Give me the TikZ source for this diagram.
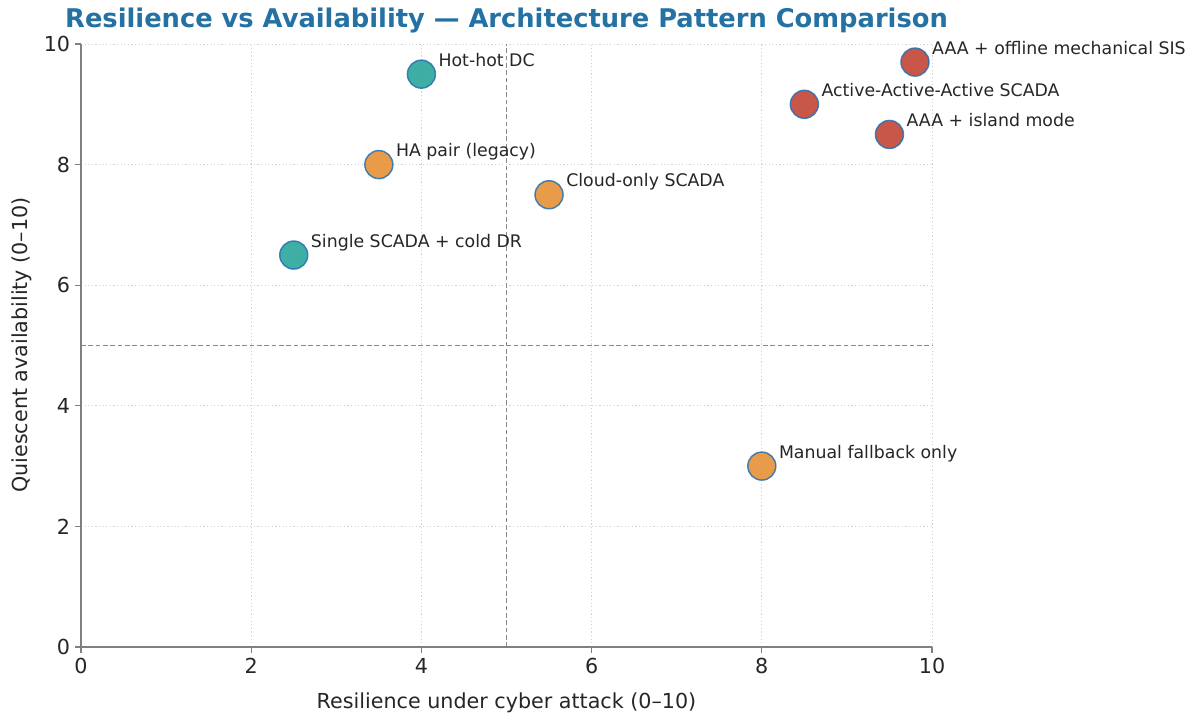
\documentclass[tikz,border=0pt]{standalone}
\usepackage{fontspec}
\setmainfont{DejaVu Sans}
\definecolor{titleblue}{RGB}{36,113,163}
\definecolor{tealpt}{RGB}{30,160,150}
\definecolor{orangept}{RGB}{229,139,43}
\definecolor{redpt}{RGB}{191,58,43}
\definecolor{ptedge}{RGB}{40,112,176}
\definecolor{ink}{RGB}{38,38,38}
\definecolor{spinec}{RGB}{128,128,128}
\definecolor{gridc}{RGB}{210,210,210}
\definecolor{refc}{RGB}{136,136,136}

\begin{document}
\begin{tikzpicture}[x=0.75pt,y=0.75pt,
  pt/.style={circle, draw=ptedge, line width=1.1pt, minimum size=21pt, inner sep=0pt, opacity=0.85},
  lbl/.style={anchor=base west, text=ink, font=\fontsize{13}{15}\selectfont, inner sep=0pt},
  ticklbl/.style={text=ink, font=\fontsize{15.5}{18}\selectfont, inner sep=0pt},
  axlbl/.style={text=ink, font=\fontsize{15.5}{19}\selectfont, inner sep=0pt},
  gridline/.style={draw=gridc, line width=0.7pt, dash pattern=on 0.9pt off 1.8pt},
  refline/.style={draw=refc, line width=0.75pt, dash pattern=on 3.5pt off 2pt},
  spine/.style={draw=spinec, line width=0.9pt}
]
\useasboundingbox (0,0) rectangle (1197,719);
\fill[white] (0,0) rectangle (1197,719);

% title and axis labels
\node[text=titleblue, font=\bfseries\fontsize{19.3}{23}\selectfont, inner sep=0pt] (title) at (506.5,698) {Resilience vs Availability — Architecture Pattern Comparison};
\node[axlbl] (xlabel) at (506.5,16) {Resilience under cyber attack (0–10)};
\node[axlbl, rotate=90] (ylabel) at (22,374) {Quiescent availability (0–10)};

% plot area in data units
\begin{scope}[shift={(81,72)}, x=63.825pt, y=45.225pt]
  \foreach \v in {2,4,...,10} {
    \draw[gridline] (\v,0) -- (\v,10);
    \draw[gridline] (0,\v) -- (10,\v);
  }
  \coordinate (o) at (0,0);
  \coordinate (xe) at (10,0);
  \coordinate (ye) at (0,10);
  \coordinate (vb) at (5,0);
  \coordinate (vt) at (5,10);
  \coordinate (hl) at (0,5);
  \coordinate (hr) at (10,5);
  \draw[refline] (vb) -- (vt);
  \draw[refline] (hl) -- (hr);
  \draw[spine] (ye) -- (o) -- (xe);
  \foreach \v in {0,2,...,10} {
    \draw[spine] (\v,0) -- ++(0,-4.5pt);
    \draw[spine] (0,\v) -- ++(-4.5pt,0);
    \node[ticklbl, anchor=north] (xt\v) at ([yshift=-8pt]\v,0) {\v};
    \node[ticklbl, anchor=east] (yt\v) at ([xshift=-8pt]0,\v) {\v};
  }

  % architecture patterns
  \node[pt, fill=tealpt]   (p1) at (2.5,6.5) {};
  \node[pt, fill=orangept] (p2) at (3.5,8.0) {};
  \node[pt, fill=tealpt]   (p3) at (4.0,9.5) {};
  \node[pt, fill=orangept] (p4) at (5.5,7.5) {};
  \node[pt, fill=orangept] (p5) at (8.0,3.0) {};
  \node[pt, fill=redpt]    (p6) at (8.5,9.0) {};
  \node[pt, fill=redpt]    (p7) at (9.5,8.5) {};
  \node[pt, fill=redpt]    (p8) at (9.8,9.7) {};

  \node[lbl] (l1) at ([xshift=12.7pt, yshift=6pt]p1.center) {Single SCADA + cold DR};
  \node[lbl] (l2) at ([xshift=12.7pt, yshift=6pt]p2.center) {HA pair (legacy)};
  \node[lbl] (l3) at ([xshift=12.7pt, yshift=6pt]p3.center) {Hot-hot DC};
  \node[lbl] (l4) at ([xshift=12.7pt, yshift=6pt]p4.center) {Cloud-only SCADA};
  \node[lbl] (l5) at ([xshift=12.7pt, yshift=6pt]p5.center) {Manual fallback only};
  \node[lbl] (l6) at ([xshift=12.7pt, yshift=6pt]p6.center) {Active-Active-Active SCADA};
  \node[lbl] (l7) at ([xshift=12.7pt, yshift=6pt]p7.center) {AAA + island mode};
  \node[lbl] (l8) at ([xshift=12.7pt, yshift=6pt]p8.center) {AAA + offline mechanical SIS};
\end{scope}
\end{tikzpicture}
\end{document}
